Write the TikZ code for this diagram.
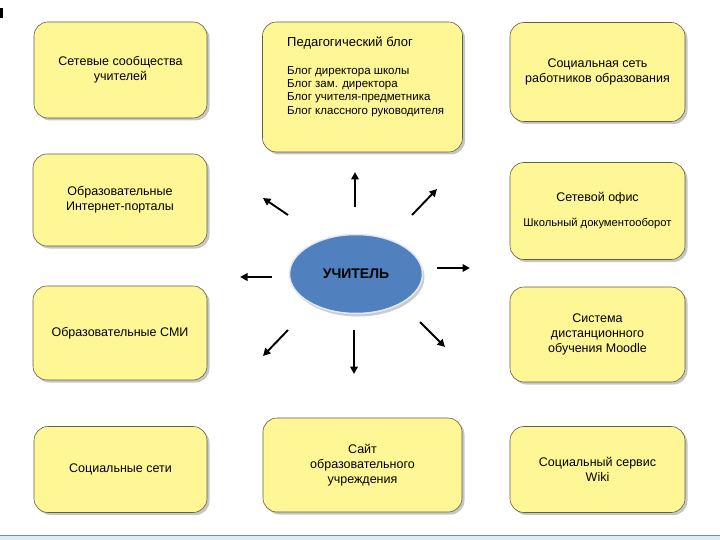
\documentclass[tikz,border=0pt]{standalone}
\usepackage{fontspec}
\setmainfont{Liberation Sans}
\usetikzlibrary{shapes.geometric,shadows,arrows.meta}
\definecolor{boxfill}{RGB}{255,246,150}
\definecolor{boxline}{RGB}{95,95,70}
\definecolor{ellfill}{RGB}{80,128,190}
\definecolor{ellrim}{RGB}{225,232,245}
\definecolor{stripfill}{RGB}{222,234,247}
\definecolor{stripline}{RGB}{120,140,165}
\tikzset{
  card/.style={draw=boxline, line width=0.6pt, fill=boxfill, rounded corners=14pt,
    inner sep=2pt, align=center, font=\fontsize{12.5}{15}\selectfont,
    drop shadow={shadow xshift=2.5pt, shadow yshift=-2.5pt, opacity=0.45}},
  ray/.style={line width=1.9pt, -{Triangle[length=7.5pt,width=7.5pt]}},
}
\begin{document}
\begin{tikzpicture}[x=1pt,y=-1pt]
\useasboundingbox (0,0) rectangle (720,540);
% page decorations
\fill[black] (0,8) rectangle (3,18);
\fill[stripfill] (0,535) rectangle (720,540);
\draw[stripline, line width=0.8pt] (0,535) -- (720,535);

% boxes
\node[card, minimum width=173pt, minimum height=96pt] (soob) at (120.5,70) {Сетевые сообщества\\учителей};
\node[card, minimum width=200pt, minimum height=130pt] (blog) at (362.5,87) {};
\node[anchor=north west, align=left, inner sep=0pt, font=\fontsize{11.5}{13.3}\selectfont] (blogtxt) at (287,37)
  {{\fontsize{13}{15}\selectfont Педагогический блог}\\[14pt]
   Блог директора школы\\Блог зам. директора\\Блог учителя-предметника\\Блог классного руководителя};
\node[card, minimum width=175pt, minimum height=99pt] (socset) at (597.5,72) {Социальная сеть\\работников образования};
\node[card, minimum width=174pt, minimum height=92pt] (portal) at (120,200) {Образовательные\\Интернет-порталы};
\node[card, minimum width=174pt, minimum height=94pt] (smi) at (120,333) {Образовательные СМИ};
\node[card, minimum width=175pt, minimum height=97pt] (ofis) at (597.5,211) {Сетевой офис\\[10pt]{\fontsize{11.2}{13}\selectfont Школьный документооборот}};
\node[card, minimum width=175pt, minimum height=95pt] (moodle) at (597.5,334.5) {Система\\дистанционного\\обучения Moodle};
\node[card, minimum width=173pt, minimum height=86pt] (seti) at (120.5,469.5) {Социальные сети};
\node[card, minimum width=199pt, minimum height=94pt] (sait) at (362.5,465) {Сайт\\образовательного\\учреждения};
\node[card, minimum width=175pt, minimum height=86pt] (wiki) at (597.5,469.5) {Социальный сервис\\Wiki};

% centre
\node[ellipse, draw=ellrim, line width=1.5pt, fill=ellfill, minimum width=133pt, minimum height=79pt, inner sep=0pt,
  drop shadow={shadow xshift=2pt, shadow yshift=-3pt, opacity=0.4},
  font=\bfseries\fontsize{14}{16}\selectfont] (teacher) at (356,274) {УЧИТЕЛЬ};

% ray end points
\coordinate (uA) at (355,207); \coordinate (uB) at (355,172);
\coordinate (neA) at (412,215); \coordinate (neB) at (437,189);
\coordinate (nwA) at (288,215); \coordinate (nwB) at (263,198);
\coordinate (wA) at (272,277); \coordinate (wB) at (240,277);
\coordinate (eA) at (437,268); \coordinate (eB) at (470,268);
\coordinate (swA) at (288,330); \coordinate (swB) at (263,356);
\coordinate (sA) at (354,330); \coordinate (sB) at (354,374);
\coordinate (seA) at (420,322); \coordinate (seB) at (445,347);
\foreach \d in {u,ne,nw,w,e,sw,s,se}{\draw[ray] (\d A) -- (\d B);}
\end{tikzpicture}
\end{document}
